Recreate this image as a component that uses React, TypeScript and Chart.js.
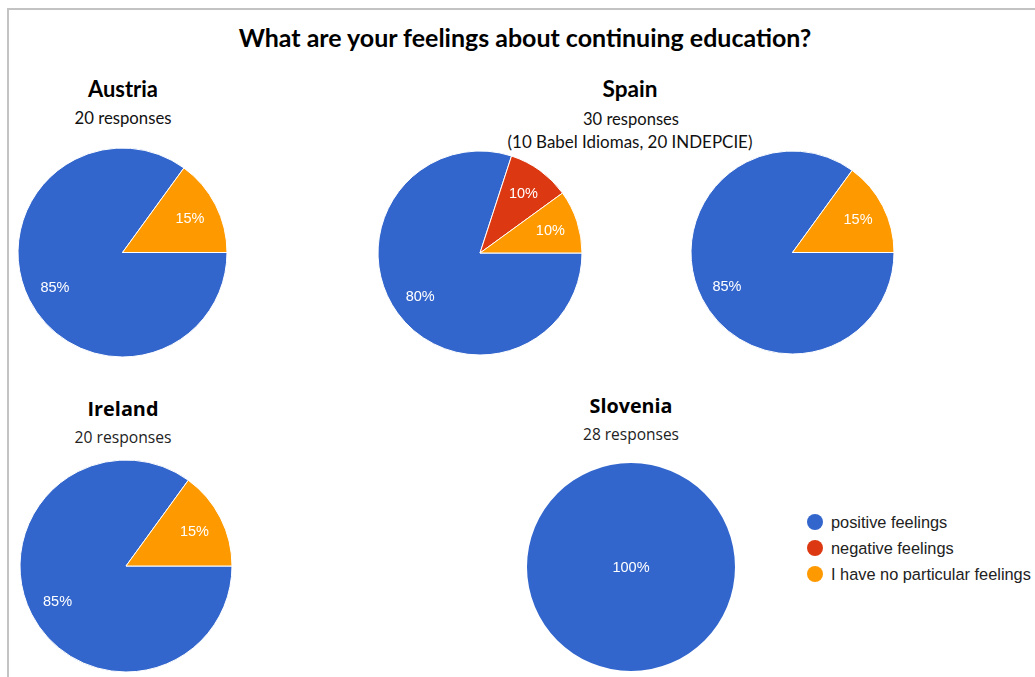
import React, { useEffect, useRef, useMemo } from "react";
import { Chart, registerables } from "chart.js";

Chart.register(...registerables);

// ---------- data ----------
const categories = ["positive feelings", "negative feelings", "I have no particular feelings"];
const austriaValues = [17, 0, 3];
const spainBabelValues = [8, 1, 1];
const spainIndepcieValues = [17, 0, 3];
const irelandValues = [17, 0, 3];
const sloveniaValues = [28, 0, 0];

const chartTitle = "What are your feelings about continuing education?";
const countryNames = ["Austria", "Spain", "Ireland", "Slovenia"];
const responseLabels = ["20 responses", "30 responses", "20 responses", "28 responses"];
const spainNote = "(10 Babel Idiomas, 20 INDEPCIE)";

// ---------- styles ----------
const sliceColors = ["#3366cc", "#dc3912", "#ff9900"];
const CAL = "Lato, 'Liberation Sans', sans-serif";
const OPEN = "'Open Sans', 'Liberation Sans', sans-serif";
const ARIAL = "'Liberation Sans', Arial, sans-serif";

const pctPlugin = {
  id: "pctLabels",
  afterDatasetsDraw(chart: any) {
    const ctx = chart.ctx;
    const meta = chart.getDatasetMeta(0);
    const data: number[] = chart.data.datasets[0].data;
    const total = data.reduce((a, b) => a + b, 0);
    ctx.save();
    ctx.fillStyle = "#ffffff";
    ctx.font = "14.5px 'Liberation Sans', Arial, sans-serif";
    ctx.textAlign = "center";
    ctx.textBaseline = "middle";
    meta.data.forEach((arc: any, i: number) => {
      const v = data[i];
      if (!v) return;
      const p = arc.getProps(["x", "y", "startAngle", "endAngle", "outerRadius"], true);
      let px = p.x;
      let py = p.y;
      if (p.endAngle - p.startAngle < Math.PI * 2 - 1e-6) {
        const mid = (p.startAngle + p.endAngle) / 2;
        px = p.x + Math.cos(mid) * p.outerRadius * 0.725;
        py = p.y + Math.sin(mid) * p.outerRadius * 0.725;
      }
      ctx.fillText(Math.round((v / total) * 100) + "%", px, py + 1);
    });
    ctx.restore();
  },
};

function Pie({ values, cx, cy, r }: { values: number[]; cx: number; cy: number; r: number }) {
  const ref = useRef<HTMLCanvasElement>(null);
  const size = Math.ceil(r * 2 + 12);
  useEffect(() => {
    if (!ref.current) return;
    const nonZero = values.filter((v) => v > 0).length;
    const chart = new Chart(ref.current, {
      type: "pie",
      data: {
        labels: categories,
        datasets: [
          {
            data: values,
            backgroundColor: sliceColors,
            borderColor: "#ffffff",
            borderWidth: nonZero > 1 ? 1 : 0,
            radius: r,
          } as any,
        ],
      },
      options: {
        animation: false,
        responsive: false,
        rotation: 90,
        layout: { padding: 0 },
        plugins: { legend: { display: false }, tooltip: { enabled: false } },
      },
      plugins: [pctPlugin],
    });
    return () => chart.destroy();
  }, [values, r]);
  return (
    <canvas
      ref={ref}
      width={size}
      height={size}
      style={{ position: "absolute", left: cx - size / 2, top: cy - size / 2, width: size, height: size }}
    />
  );
}

function fitSize(text: string, weight: string, family: string, target: number) {
  const c = document.createElement("canvas").getContext("2d")!;
  c.font = `${weight} 100px ${family}`;
  return (100 * target) / c.measureText(text).width;
}

function Label({
  text, cx, cy, width, weight, family, color,
}: { text: string; cx: number; cy: number; width: number; weight: string; family: string; color: string }) {
  const fs = useMemo(() => fitSize(text, weight, family, width), [text, weight, family, width]);
  return (
    <div
      style={{
        position: "absolute",
        left: cx,
        top: cy,
        transform: "translate(-50%, -50%)",
        fontFamily: family,
        fontWeight: weight as any,
        fontSize: fs,
        lineHeight: 1,
        whiteSpace: "nowrap",
        color,
      }}
    >
      {text}
    </div>
  );
}

export default function App() {
  const legendY = [522, 548, 574];
  const legendFs = useMemo(() => fitSize(categories[2], "400", ARIAL, 200), []);
  return (
    <div
      style={{
        position: "absolute",
        left: 0,
        top: 0,
        width: 1035,
        height: 677,
        overflow: "hidden",
        background: "#ffffff",
      }}
    >
      {/* frame */}
      <div style={{ position: "absolute", left: 7, top: 8, width: 1028, height: 2, background: "#c3c3c3" }} />
      <div style={{ position: "absolute", left: 7, top: 8, width: 2, height: 669, background: "#c3c3c3" }} />

      <Label text={chartTitle} cx={525} cy={37} width={574} weight="700" family={CAL} color="#000" />

      <Label text={countryNames[0]} cx={123} cy={89} width={70} weight="700" family={CAL} color="#000" />
      <Label text={responseLabels[0]} cx={123} cy={118} width={97} weight="400" family={CAL} color="#111" />

      <Label text={countryNames[1]} cx={630} cy={89} width={55} weight="700" family={CAL} color="#000" />
      <Label text={responseLabels[1]} cx={631} cy={119} width={96} weight="400" family={CAL} color="#111" />
      <Label text={spainNote} cx={630} cy={142} width={245} weight="400" family={CAL} color="#111" />

      <Label text={countryNames[2]} cx={123} cy={409} width={71} weight="700" family={OPEN} color="#000" />
      <Label text={responseLabels[2]} cx={123} cy={438} width={97} weight="400" family={OPEN} color="#222" />

      <Label text={countryNames[3]} cx={631} cy={406} width={83} weight="700" family={OPEN} color="#000" />
      <Label text={responseLabels[3]} cx={631} cy={435} width={96} weight="400" family={OPEN} color="#222" />

      <Pie values={austriaValues} cx={122.5} cy={252.5} r={104.5} />
      <Pie values={spainBabelValues} cx={480} cy={253} r={102} />
      <Pie values={spainIndepcieValues} cx={792} cy={252} r={101.5} />
      <Pie values={irelandValues} cx={126} cy={565.5} r={106} />
      <Pie values={sloveniaValues} cx={631} cy={567} r={104} />

      {/* legend */}
      {categories.map((c, i) => (
        <React.Fragment key={c}>
          <div
            style={{
              position: "absolute",
              left: 807,
              top: legendY[i] - 8,
              width: 16,
              height: 16,
              borderRadius: "50%",
              background: sliceColors[i],
            }}
          />
          <div
            style={{
              position: "absolute",
              left: 831,
              top: legendY[i],
              transform: "translateY(-50%)",
              fontFamily: ARIAL,
              fontSize: legendFs,
              lineHeight: 1,
              whiteSpace: "nowrap",
              color: "#222",
            }}
          >
            {c}
          </div>
        </React.Fragment>
      ))}
    </div>
  );
}
